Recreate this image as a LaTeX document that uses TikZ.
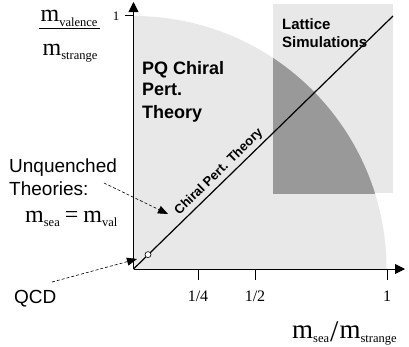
\documentclass[tikz,border=0pt]{standalone}
\usepackage{fontspec}
\setmainfont{Liberation Serif}
\setsansfont{Liberation Sans}
\usetikzlibrary{arrows.meta}
\newcommand\msubx[3]{{\fontsize{#1}{#1}\selectfont m}\raisebox{-#3}{\fontsize{12.5}{12.5}\selectfont #2}}
\begin{document}
\begin{tikzpicture}[x=1pt,y=-1pt,
  lightfill/.style={fill=black!9},
  darkfill/.style={fill=black!40},
  axisline/.style={line width=0.9pt,-{Triangle[length=10pt,width=10pt]}},
  dasharrow/.style={dash pattern=on 3pt off 2pt,line width=0.6pt,-{Triangle[length=10pt,width=8pt]}},
  tickline/.style={line width=0.8pt},
  ticklab/.style={font=\fontsize{16}{16}\selectfont,anchor=base,inner sep=0pt},
  bigbold/.style={font=\sffamily\bfseries\fontsize{18}{18}\selectfont,anchor=base west,inner sep=0pt},
  latbold/.style={font=\sffamily\bfseries\fontsize{15}{15}\selectfont,anchor=base west,inner sep=0pt},
  plain/.style={font=\sffamily\fontsize{19}{19}\selectfont,anchor=base west,inner sep=0pt},
  mathtxt/.style={anchor=base,inner sep=0pt}
]
\useasboundingbox (0,0) rectangle (409,346);
% key coordinates
\coordinate (O) at (133.5,269);
\coordinate (Ytop) at (133.5,2);
\coordinate (Xend) at (405,269);
\coordinate (D) at (393,16);
% quarter disc
\begin{scope}
  \clip (O) rectangle (409,0);
  \fill[lightfill] (O) circle[radius=253pt];
\end{scope}
% lattice rectangle
\fill[lightfill] (273,4) rectangle (393,193);
\begin{scope}
  \clip (273,4) rectangle (393,193);
  \clip (O) rectangle (409,0);
  \fill[darkfill] (O) circle[radius=253pt];
\end{scope}
% axes
\draw[axisline] (O) -- (Ytop);
\draw[axisline] (O) -- (Xend);
% ticks
\coordinate (yt1) at (125,15); \coordinate (yt2) at (133.5,15);
\draw[tickline] (yt1) -- (yt2);
\foreach \xx/\nm in {198/a,255/b,387/c}{
  \coordinate (tk\nm1) at (\xx,269); \coordinate (tk\nm2) at (\xx,280);
  \draw[tickline] (tk\nm1) -- (tk\nm2);
}
\node[ticklab] (lq) at (198,301) {1/4};
\node[ticklab] (lh) at (255,301) {1/2};
\node[ticklab] (lo) at (387,301) {1};
\node[font=\fontsize{13}{13}\selectfont,anchor=base,inner sep=0pt] (ly) at (116,20) {1};
% diagonal
\draw[line width=1.2pt] (O) -- (D);
\node[circle,draw,fill=white,inner sep=0pt,minimum size=6pt,line width=0.6pt] (qpt) at (148,254.6) {};
\node[font=\sffamily\bfseries\fontsize{13}{13}\selectfont,rotate=44.3,inner sep=0pt] (cpt) at (219,172) {Chiral Pert. Theory};
% region labels
\node[bigbold] (pq1) at (142,74) {PQ Chiral};
\node[bigbold] (pq2) at (142,95.5) {Pert.};
\node[bigbold] (pq3) at (142,118) {Theory};
\node[latbold] (lat1) at (282,29) {Lattice};
\node[latbold] (lat2) at (282,47) {Simulations};
% left labels
\node[plain] (un1) at (9,172) {Unquenched};
\node[plain] (un2) at (9,195) {Theories:};
\node[anchor=base west,inner sep=0pt] (meq) at (25,222) {\msubx{24}{sea}{4.5pt}\hspace{5pt}{\fontsize{24}{24}\selectfont =}\hspace{5pt}\msubx{24}{val}{4.5pt}};
\node[plain] (qcd) at (14,303) {QCD};
\coordinate (ua) at (104,183);
\coordinate (ub) at (168,214);
\draw[dasharrow] (ua) -- (ub);
\coordinate (qa) at (52,282);
\coordinate (qb) at (137,259);
\draw[dasharrow] (qa) -- (qb);
% y axis label (fraction)
\node[mathtxt] (num) at (69,21.7) {\msubx{24}{valence}{4.3pt}};
\coordinate (fb1) at (39,28); \coordinate (fb2) at (100,28);
\draw[line width=0.8pt] (fb1) -- (fb2);
\node[mathtxt] (den) at (70,55) {\msubx{24}{strange}{4pt}};
% x axis label
\node[anchor=base west,inner sep=0pt] (xl) at (292,338) {\msubx{27}{sea}{4.5pt}\hspace{1pt}\raisebox{-3pt}{\fontsize{30}{30}\selectfont /}\hspace{1pt}\msubx{27}{strange}{4.5pt}};
\end{tikzpicture}
\end{document}
